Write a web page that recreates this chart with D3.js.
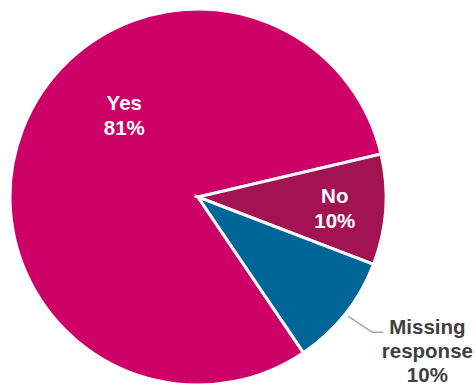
<!DOCTYPE html>
<html>
<head>
<meta charset="utf-8">
<script src="https://cdn.jsdelivr.net/npm/d3@7"></script>
<style>
  body { margin: 0; background: #fff; }
  svg { display: block; }
  text { font-family: "Liberation Sans", Arial, sans-serif; font-weight: bold; font-size: 20.5px; }
</style>
</head>
<body>
<div id="chart"></div>
<script>
const categories = ['Yes', 'No', 'Missing response'];
const values = [80.8, 9.5, 9.7];
const percentLabels = ['81%', '10%', '10%'];
const colors = ['#cc0066', '#a31353', '#006699'];

const width = 476;
const height = 389;
const cx = 198;
const cy = 197;
const radius = 188;

const svg = d3.select('#chart')
              .append('svg')
              .attr('width', width)
              .attr('height', height);

const g = svg.append('g')
             .attr('transform', 'translate(' + cx + ',' + cy + ')');

// Yes slice starts at about 146 degrees (clockwise from 12 o'clock)
const start = 145.9 * Math.PI / 180;
const pie = d3.pie()
              .sort(null)
              .value((d) => d)
              .startAngle(start)
              .endAngle(start + 2 * Math.PI);

const arcs = pie(values);

const arc = d3.arc()
              .innerRadius(0)
              .outerRadius(radius);

g.selectAll('path')
 .data(arcs)
 .enter()
 .append('path')
 .attr('d', arc)
 .attr('fill', (d, i) => colors[i])
 .attr('stroke', '#fff')
 .attr('stroke-width', 3)
 .attr('stroke-linejoin', 'miter');

const polar = (angleDeg, r) => {
  const a = angleDeg * Math.PI / 180;
  return [Math.sin(a) * r, -Math.cos(a) * r];
};
const midDeg = (d) => (d.startAngle + d.endAngle) / 2 * 180 / Math.PI;

// inside labels: Yes and No
const yesPos = polar(315.4, 105);
const noPos = polar(midDeg(arcs[1]) + 3.8, 138);

const insideLabels = [
  { lines: [categories[0], percentLabels[0]], pos: yesPos },
  { lines: [categories[1], percentLabels[1]], pos: noPos }
];

insideLabels.forEach((lab) => {
  const t = g.append('text')
             .attr('text-anchor', 'middle')
             .attr('fill', '#fff')
             .attr('x', lab.pos[0])
             .attr('y', lab.pos[1] - 12.5);
  t.append('tspan')
   .attr('x', lab.pos[0])
   .text(lab.lines[0]);
  t.append('tspan')
   .attr('x', lab.pos[0])
   .attr('dy', 25.5)
   .text(lab.lines[1]);
});

// outside label for Missing response with leader line
const p0 = polar(midDeg(arcs[2]), radius + 4);
const p1 = [p0[0] + 24, p0[1] + 16];
const p2 = [p1[0] + 11, p1[1]];

g.append('polyline')
 .attr('points', [p0, p1, p2].map((p) => p.join(',')).join(' '))
 .attr('fill', 'none')
 .attr('stroke', '#a6a6a6')
 .attr('stroke-width', 1.5);

const mx = p2[0] + 44;
const mt = g.append('text')
            .attr('text-anchor', 'middle')
            .attr('fill', '#404040')
            .attr('x', mx)
            .attr('y', p2[1] + 2);
['Missing', 'response', percentLabels[2]].forEach((s, i) => {
  mt.append('tspan')
    .attr('x', mx)
    .attr('dy', i === 0 ? 0 : 24)
    .text(s);
});
</script>
</body>
</html>
